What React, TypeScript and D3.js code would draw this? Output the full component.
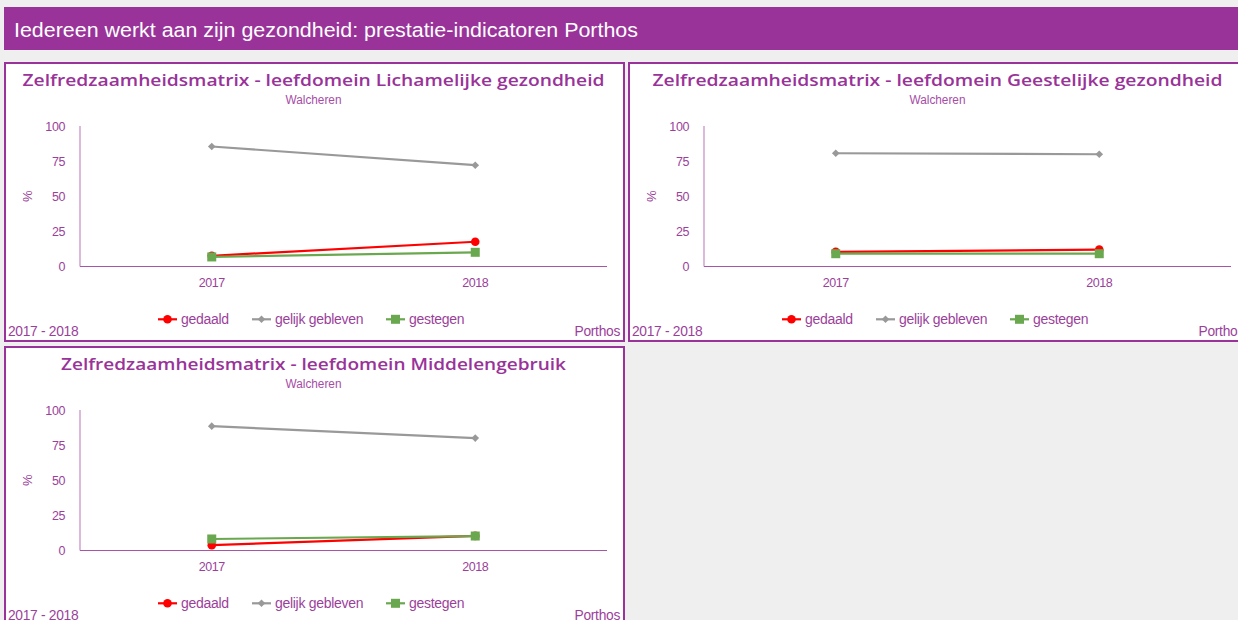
import React from "react";
import * as d3 from "d3";

const years = ["2017", "2018"];
const yTicks = [0, 25, 50, 75, 100];
const seriesNames = ["gedaald", "gelijk gebleven", "gestegen"];
const seriesColors = ["#ff0000", "#999999", "#6aa84f"];
const seriesSymbols = ["circle", "diamond", "square"];

const lichamelijkGedaald = [7.6, 17.6];
const lichamelijkGelijk = [85.4, 72.1];
const lichamelijkGestegen = [6.8, 10.1];

const geestelijkGedaald = [10.4, 12.0];
const geestelijkGelijk = [80.6, 79.9];
const geestelijkGestegen = [9.1, 9.1];

const middelenGedaald = [3.8, 10.4];
const middelenGelijk = [88.5, 80.0];
const middelenGestegen = [8.2, 10.3];

const headerTitle = "Iedereen werkt aan zijn gezondheid: prestatie-indicatoren Porthos";
const subtitle = "Walcheren";
const periodLabel = "2017 - 2018";
const sourceLabel = "Porthos";
const yLabel = "%";

const panels = [
  { title: "Zelfredzaamheidsmatrix - leefdomein Lichamelijke gezondheid", titleWidth: 582, x: 4, y: 62, series: [lichamelijkGedaald, lichamelijkGelijk, lichamelijkGestegen] },
  { title: "Zelfredzaamheidsmatrix - leefdomein Geestelijke gezondheid", titleWidth: 570, x: 628, y: 62, series: [geestelijkGedaald, geestelijkGelijk, geestelijkGestegen] },
  { title: "Zelfredzaamheidsmatrix - leefdomein Middelengebruik", titleWidth: 505, x: 4, y: 346, series: [middelenGedaald, middelenGelijk, middelenGestegen] },
];

const PURPLE = "#993399";
const TEXT = "#9b3f9b";
const W = 621;
const H = 280;
const plotLeft = 76;
const plotRight = 603;
const plotTop = 64;
const plotBottom = 204.5;
const legendX = [154, 248, 382];

function Marker({ kind, color, x, y }: { kind: string; color: string; x: number; y: number }) {
  if (kind === "circle") return <circle cx={x} cy={y} r={4.3} fill={color} />;
  if (kind === "square") return <rect x={x - 4.5} y={y - 4.5} width={9} height={9} fill={color} />;
  const s = 3.8;
  return <path d={`M${x},${y - s}L${x + s},${y}L${x},${y + s}L${x - s},${y}Z`} fill={color} />;
}

function Panel({ p }: { p: (typeof panels)[number] }) {
  const xScale = d3.scaleBand<string>().domain(years).range([plotLeft, plotRight]);
  const yScale = d3.scaleLinear().domain([0, 100]).range([plotBottom, plotTop]);
  const cx = (d: string) => (xScale(d) ?? 0) + xScale.bandwidth() / 2;
  const line = d3
    .line<number>()
    .x((_, i) => cx(years[i]))
    .y((v) => yScale(v));
  return (
    <g transform={`translate(${p.x},${p.y})`}>
      <rect x={0} y={0} width={W} height={H} fill="#ffffff" />
      <rect x={1} y={1} width={W - 2} height={H - 2} fill="none" stroke={PURPLE} strokeWidth={2} />
      <text x={W / 2 - 1} y={24} textAnchor="middle" fill={PURPLE} fontFamily="'Open Sans', sans-serif" fontWeight={600} fontSize={17} textLength={p.titleWidth} lengthAdjust="spacingAndGlyphs">
        {p.title}
      </text>
      <text x={W / 2 - 1} y={42} textAnchor="middle" fill="#a64ca6" fontFamily="'Liberation Sans Narrow', 'Liberation Sans', sans-serif" fontSize={12} textLength={56} lengthAdjust="spacingAndGlyphs">
        {subtitle}
      </text>
      <line x1={plotLeft} x2={plotLeft} y1={plotTop} y2={plotBottom} stroke="#c58bc5" strokeWidth={1.2} />
      <line x1={plotLeft} x2={plotRight} y1={plotBottom} y2={plotBottom} stroke="#a855a8" strokeWidth={1.2} />
      {yTicks.map((t) => (
        <text key={t} x={61} y={yScale(t) + 4.5} textAnchor="end" fill={TEXT} fontFamily="'Liberation Sans', Arial, sans-serif" fontSize={12.5} letterSpacing={-0.4}>
          {t}
        </text>
      ))}
      <text transform={`translate(${28},${(plotTop + plotBottom) / 2}) rotate(-90)`} textAnchor="middle" fill={TEXT} fontFamily="'Liberation Sans', Arial, sans-serif" fontSize={13}>
        {yLabel}
      </text>
      {years.map((yr) => (
        <text key={yr} x={cx(yr)} y={225} textAnchor="middle" fill={TEXT} fontFamily="'Liberation Sans', Arial, sans-serif" fontSize={12.5} letterSpacing={-0.4}>
          {yr}
        </text>
      ))}
      {p.series.map((vals, si) => (
        <g key={si}>
          <path d={line(vals) ?? ""} fill="none" stroke={seriesColors[si]} strokeWidth={2.2} />
          {vals.map((v, i) => (
            <Marker key={i} kind={seriesSymbols[si]} color={seriesColors[si]} x={cx(years[i])} y={yScale(v)} />
          ))}
        </g>
      ))}
      {seriesNames.map((n, si) => (
        <g key={n}>
          <line x1={legendX[si]} x2={legendX[si] + 19} y1={257.3} y2={257.3} stroke={seriesColors[si]} strokeWidth={2.2} />
          <Marker kind={seriesSymbols[si]} color={seriesColors[si]} x={legendX[si] + 9.5} y={257.3} />
          <text x={legendX[si] + 23} y={262} fill={TEXT} fontFamily="'Liberation Sans', Arial, sans-serif" fontSize={14} letterSpacing={-0.3}>
            {n}
          </text>
        </g>
      ))}
      <text x={4} y={273.5} fill={TEXT} fontFamily="'Liberation Sans', Arial, sans-serif" fontSize={13.8} letterSpacing={-0.3}>
        {periodLabel}
      </text>
      <text x={616} y={273.5} textAnchor="end" fill={TEXT} fontFamily="'Liberation Sans', Arial, sans-serif" fontSize={13.8} letterSpacing={-0.3}>
        {sourceLabel}
      </text>
    </g>
  );
}

export default function App() {
  return (
    <div style={{ position: "fixed", left: 0, top: 0, width: 1238, height: 620, overflow: "hidden" }}>
      <svg width={1238} height={620} style={{ display: "block" }}>
        <rect x={0} y={0} width={1238} height={620} fill="#efefef" />
        <rect x={4} y={7} width={1240} height={43} fill={PURPLE} />
        <text x={14} y={37} fill="#ffffff" fontFamily="'Liberation Sans', Arial, sans-serif" fontSize={20.5} textLength={624} lengthAdjust="spacingAndGlyphs">
          {headerTitle}
        </text>
        {panels.map((p, i) => (
          <Panel key={i} p={p} />
        ))}
      </svg>
    </div>
  );
}
